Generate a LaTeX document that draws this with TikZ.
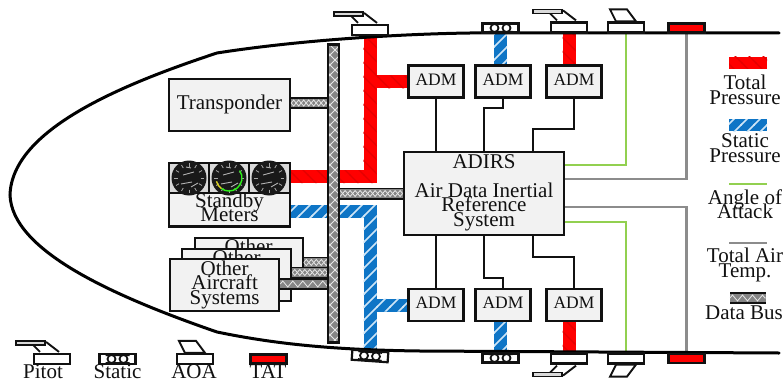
\documentclass[tikz,border=0pt]{standalone}
\usepackage{fontspec}
\setmainfont{Liberation Serif}
\usetikzlibrary{patterns,decorations.pathmorphing,calc}
\definecolor{boxfill}{HTML}{F2F2F2}
\definecolor{busgray}{HTML}{858585}
\definecolor{buslight}{HTML}{E6E6E6}
\definecolor{pblue}{HTML}{0E75C6}
\definecolor{pgreen}{HTML}{92D050}
\definecolor{pgray}{HTML}{8C8C8C}
\definecolor{redhatch}{HTML}{E40000}
\definecolor{bluehatch}{HTML}{CFE6F7}
\definecolor{ink}{HTML}{111111}
\pgfdeclarelayer{under}
\pgfsetlayers{under,main}
\pgfdeclarepatternformonly{bluestripe}{\pgfqpoint{-1pt}{-1pt}}{\pgfqpoint{14pt}{14pt}}{\pgfqpoint{13pt}{13pt}}{
  \pgfsetlinewidth{1.5pt}\pgfpathmoveto{\pgfqpoint{-1pt}{-1pt}}\pgfpathlineto{\pgfqpoint{14pt}{14pt}}\pgfusepath{stroke}}
\pgfdeclarepatternformonly{redstripe}{\pgfqpoint{-1pt}{-1pt}}{\pgfqpoint{15pt}{15pt}}{\pgfqpoint{14pt}{14pt}}{
  \pgfsetlinewidth{1.2pt}\pgfpathmoveto{\pgfqpoint{-1pt}{15pt}}\pgfpathlineto{\pgfqpoint{15pt}{-1pt}}\pgfusepath{stroke}}
\pgfdeclarepatternformonly{busx}{\pgfqpoint{-1pt}{-1pt}}{\pgfqpoint{11pt}{11pt}}{\pgfqpoint{10pt}{10pt}}{
  \pgfsetlinewidth{0.8pt}\pgfpathmoveto{\pgfqpoint{-1pt}{-1pt}}\pgfpathlineto{\pgfqpoint{11pt}{11pt}}
  \pgfpathmoveto{\pgfqpoint{-1pt}{11pt}}\pgfpathlineto{\pgfqpoint{11pt}{-1pt}}\pgfusepath{stroke}}
\newcommand{\txtfont}{\fontsize{21}{14.5}\selectfont\lineskiplimit=-100pt }
\newcommand{\admfont}{\fontsize{17.5}{14.5}\selectfont}
\tikzset{
  box/.style={draw=ink,line width=2.3pt,fill=boxfill,inner sep=0pt,align=center,font=\txtfont,text=ink},
  admbox/.style={box,minimum width=55pt,minimum height=32pt,font=\admfont,text depth=4.5pt},
  sensorbox/.style={draw=ink,line width=2.2pt,fill=white,inner sep=0pt,minimum width=36pt,minimum height=10pt},
  tatbox/.style={sensorbox,fill=red,minimum height=9pt},
  lbl/.style={inner sep=0pt,align=center,font=\txtfont,text=ink,anchor=base},
  wire/.style={draw=ink,line width=2.3pt},
  greenwire/.style={draw=pgreen,line width=2.4pt},
  graywire/.style={draw=pgray,line width=2.4pt},
  redpipe/.style={draw=red,line width=13pt},
  bluepipe/.style={draw=pblue,line width=13pt},
  redtex/.style={pattern=redstripe,pattern color=redhatch},
  bluetex/.style={pattern=bluestripe,pattern color=bluehatch},
  buswave/.style={line width=12pt,draw=ink,
    postaction={draw=busgray,line width=8.5pt},
    postaction={draw=buslight,line width=.8pt,decorate,decoration={zigzag,amplitude=3pt,segment length=10pt}}},
  busline/.style={buswave,
    postaction={draw=buslight,line width=.8pt,decorate,decoration={zigzag,amplitude=3pt,segment length=10pt,mirror}}},
  pitotprobe/.pic={
    \draw[ink,line width=1.9pt] (-19,-8) -- (-12,-1) (-6,-11) -- (7,-1);
    \draw[ink,line width=1.7pt,fill=gray!30] (-36,-12) rectangle (-7,-8);
  },
  aoavane/.pic={
    \draw[ink,line width=1.9pt,fill=white] (-16,-12) -- (1,-12) -- (10,0) -- (-10,0) -- cycle;
  },
  staticholes/.pic={
    \fill[ink] (-12,-4.5) rectangle (12,-3) (-12,3) rectangle (12,4.5);
    \draw[ink,line width=1.8pt,fill=white] (-6,0) circle (4) (6,0) circle (4);
  },
  dial/.pic={
    \fill[black!90] (0,0) circle (17.5);
    \foreach \a in {0,30,...,330}{\draw[gray!70,line width=.8pt] (\a:11.5) -- (\a:15);}
    \draw[gray!60,line width=.9pt] (-6,-3) -- (5,-6) (-8,6) -- (3,4) (2,9) -- (9,5) (-3,-11) -- (2,-10);
  },
}
\begin{document}
\begin{tikzpicture}[x=1pt,y=-1pt]
\useasboundingbox (0,0) rectangle (783,385);

% ---- nodes: systems
\node[box,minimum width=121pt,minimum height=52.5pt,text depth=6.5pt] (xpdr) at (229.5,105) {Transponder};
\node[box,minimum width=121pt,minimum height=31pt,text depth=5pt] (standby) at (229.5,209.5) {Standby\\Meters};
\node[box,minimum width=121pt,minimum height=30.5pt,fill=gray!30,line width=1.8pt] (dials) at (229.5,178) {};
\foreach \cx in {189,229,269}{\pic at (\cx,178) {dial};}
\draw[green!70!pgreen,line width=1.4pt] (229,178) ++(-35:13) arc[start angle=-35,end angle=125,radius=13];
\draw[yellow!85!black,line width=1.4pt] (229,178) ++(125:13) arc[start angle=125,end angle=165,radius=13];
\draw[ink,line width=1.8pt] (209,162.5) -- (209,193.5) (249,162.5) -- (249,193.5);
\node[box,minimum width=108pt,minimum height=31pt,anchor=north west,text depth=15pt] (other3) at (193.5,237) {Other};
\node[box,minimum width=109pt,minimum height=52pt,anchor=north west,text depth=36pt] (other2) at (181,248) {Other};
\node[box,minimum width=109pt,minimum height=52pt,anchor=north west] (other1) at (169,257.5) {Other\\Aircraft\\Systems};

% ---- ADMs and ADIRS
\node[box,minimum width=160.5pt,minimum height=83.5pt,text depth=6pt] (adirs) at (484,193.5) {ADIRS\\[14.5pt]Air Data Inertial\\Reference\\System};
\node[admbox] (admT1) at (436,81.5) {ADM};
\node[admbox] (admT2) at (503,81.5) {ADM};
\node[admbox] (admT3) at (574,81.5) {ADM};
\node[admbox] (admB1) at (436,305) {ADM};
\node[admbox] (admB2) at (503,305) {ADM};
\node[admbox] (admB3) at (574,305) {ADM};

% ---- sensors
\node[sensorbox] (pitotTL) at (370,30) {};
\pic at (pitotTL.north) {pitotprobe};
\node[sensorbox,minimum height=9pt] (statT) at (500.5,28) {};
\pic at (statT.center) {staticholes};
\node[sensorbox] (pitotT) at (569,27.5) {};
\pic at (pitotT.north) {pitotprobe};
\node[sensorbox] (aoaT) at (626,27.5) {};
\pic at (aoaT.north) {aoavane};
\node[tatbox] (tatT) at (686.5,28) {};
\node[sensorbox,minimum height=9pt] (statB) at (500.5,358) {};
\pic at (statB.center) {staticholes};
\node[sensorbox] (pitotB) at (569,358.5) {};
\pic[yscale=-1] at (pitotB.south) {pitotprobe};
\node[sensorbox] (aoaB) at (626,358.5) {};
\pic[yscale=-1] at (aoaB.south) {aoavane};
\node[tatbox] (tatB) at (686.5,358.5) {};
\node[sensorbox,rotate=-4] (statBL) at (370,356) {};
\pic[rotate=-4] at (statBL.center) {staticholes};

% ---- junction coordinates
\coordinate (rs) at (291,176.5);
\coordinate (rj) at (370,176.5);
\coordinate (rb) at (370,82);
\coordinate (rt) at (370,35);
\coordinate (bs) at (291,211.5);
\coordinate (bj) at (370,211.5);
\coordinate (bb) at (370,305);
\coordinate (be) at (370,351);
\coordinate (busT) at (333.5,44);

\begin{pgfonlayer}{under}
% ---- pressure pipes
\draw[redpipe] (rs) -- (rj) -- (rt);
\draw[redpipe] (rb) -- (rb -| admT1.west);
\draw[redpipe] (pitotT.south) -- (pitotT.south |- admT3.north);
\draw[redpipe] (pitotB.north) -- (pitotB.north |- admB3.south);
\draw[bluepipe] (bs) -- (bj) -- (be);
\draw[bluepipe] (bb) -- (bb -| admB1.west);
\draw[bluepipe] (statT.south) -- (statT.south |- admT2.north);
\draw[bluepipe] (statB.north) -- (statB.north |- admB2.south);
\fill[redtex] (291,170) rectangle (376.5,183) (363.5,36) rectangle (376.5,170) (376.5,75.5) rectangle (408,88.5)
  (562.5,33) rectangle (575.5,65) (562.5,321) rectangle (575.5,353);
\fill[bluetex] (291,205) rectangle (376.5,218) (363.5,218) rectangle (376.5,351) (376.5,298.5) rectangle (408,311.5)
  (494,33) rectangle (507,65) (494,321) rectangle (507,352);

% ---- ADM wires
\draw[wire] (admT1.south) -- (adirs.north -| admT1.south);
\draw[wire] (admT2.south) -- (503,108) -- (484,108) -- (adirs.north);
\draw[wire] (admT3.south) -- (574,129) -- (533,129) -- (533,152);
\draw[wire] (admB1.north) -- (adirs.south -| admB1.north);
\draw[wire] (admB2.north) -- (503,278) -- (484,278) -- (adirs.south);
\draw[wire] (admB3.north) -- (574,257) -- (533,257) -- (533,235);

% ---- AOA / TAT wires
\draw[greenwire] (adirs.east |- 0,165) -| (aoaT.south);
\draw[greenwire] (adirs.east |- 0,222) -| (aoaB.north);
\draw[graywire] (adirs.east |- 0,179) -| (tatT.south);
\draw[graywire] (adirs.east |- 0,207) -| (tatB.north);

% ---- hull
\draw[black,line width=3pt,line cap=round,line join=miter]
  (779,33) -- (470,33) .. controls (400,34) and (300,40) .. (217,53)
  .. controls (120,85) and (12,130) .. (10,195)
  .. controls (12,250) and (110,295) .. (217,332)
  .. controls (280,345) and (340,350) .. (420,351) -- (779,353);
\end{pgfonlayer}

% ---- data bus
\draw[busline] (xpdr.east |- 0,103) -- (busT |- 0,103);
\draw[busline] (adirs.west) -- (adirs.west -| busT);
\draw[busline] (other3.east |- 0,262.5) -- (busT |- 0,262.5);
\draw[busline] (other2.east |- 0,272.5) -- (busT |- 0,272.5);
\draw[buswave] (other1.east |- 0,284) -- (busT |- 0,284);
\node[draw=ink,line width=2.2pt,inner sep=0pt,minimum width=11.5pt,minimum height=298pt,
  preaction={fill=busgray},pattern=busx,pattern color=buslight] (bus) at (333.5,193.5) {};

% ---- bottom legend
\node[sensorbox] (legP) at (52,359) {};
\pic at (legP.north) {pitotprobe};
\node[sensorbox] (legS) at (117.5,359) {};
\pic at (legS.center) {staticholes};
\node[sensorbox] (legA) at (195,359) {};
\pic at (legA.north) {aoavane};
\node[tatbox] (legT) at (268.5,359) {};
\node[lbl] (legPt) at (43,378) {Pitot};
\node[lbl] (legSt) at (117.5,378) {Static};
\node[lbl] (legAt) at (194,378) {AOA};
\node[lbl] (legTt) at (268,378) {TAT};

% ---- right legend
\fill[red] (729,57) rectangle (767,69);
\fill[redtex] (729,57) rectangle (767,69);
\fill[pblue] (729,119) rectangle (767,131);
\fill[bluetex] (729,119) rectangle (767,131);
\coordinate (lgL1) at (729,184); \coordinate (lgR1) at (767,184);
\coordinate (lgL2) at (729,243); \coordinate (lgR2) at (767,243);
\coordinate (lgL3) at (730,298); \coordinate (lgR3) at (766,298);
\draw[greenwire] (lgL1) -- (lgR1);
\draw[graywire] (lgL2) -- (lgR2);
\draw[buswave] (lgL3) -- (lgR3);
\node[lbl] (lt1) at (745,89) {Total};
\node[lbl] (lt2) at (745,104) {Pressure};
\node[lbl] (lt3) at (745,147) {Static};
\node[lbl] (lt4) at (745,162) {Pressure};
\node[lbl] (lt5) at (745,204) {Angle of};
\node[lbl] (lt6) at (745,218) {Attack};
\node[lbl] (lt7) at (745,262) {Total Air};
\node[lbl] (lt8) at (745,277) {Temp.};
\node[lbl] (lt9) at (744,319) {Data Bus};
\end{tikzpicture}
\end{document}
